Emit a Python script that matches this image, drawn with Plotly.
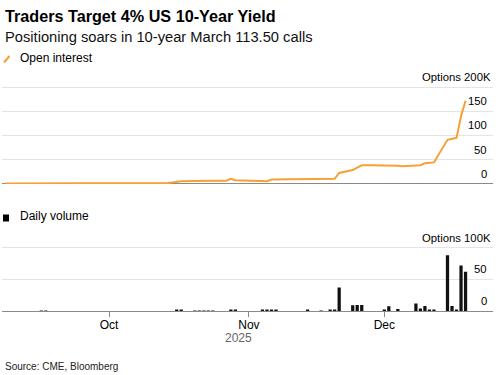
import pandas as pd
import plotly.graph_objects as go

# ---- data (values in thousands of options) ----
trade_dates = [d for d in pd.bdate_range("2025-09-08", "2025-12-19") if d != pd.Timestamp("2025-11-27")]

open_interest_k = [
    0, 0, 0, 0, 0,          # Sep 8-12
    0, 1, 1, 1, 1,          # Sep 15-19
    1, 1, 1, 1, 1,          # Sep 22-26
    1, 1, 1, 1, 1,          # Sep 29-Oct 3
    1, 1, 1, 1, 1,          # Oct 6-10
    1, 1, 2, 4, 5,          # Oct 13-17
    5.5, 6, 6, 6, 6,        # Oct 20-24
    6, 10, 7, 6.5, 6.5,     # Oct 27-31
    6, 4, 5, 8.5, 9,        # Nov 3-7
    9, 9, 9, 10, 10,        # Nov 10-14
    10, 10, 10, 10, 22,     # Nov 17-21
    28, 33, 38, 38,         # Nov 24-26, 28
    38, 38, 37.5, 37, 36,   # Dec 1-5
    37, 38, 42, 43, 44,     # Dec 8-12
    91, 93, 95, 140, 172,   # Dec 15-19
]

daily_volume_k = [
    0, 0, 0, 0, 0,
    0, 0.8, 0.8, 0, 0,
    0, 0, 0, 0, 0,
    0, 0, 0, 0, 0,
    0, 0, 0, 0, 0,
    0, 0, 0, 1.5, 1.5,
    0.4, 0.4, 0.4, 0.4, 0.4,
    0, 1.5, 1.2, 0, 0,
    0, 1, 2.3, 1.5, 2,
    0, 0, 0, 0, 2,
    0.8, 0, 1, 2, 37,
    9, 9.5, 9.5, 0,
    1, 7.4, 0, 3, 0,
    12, 4, 8, 1.5, 1.5,
    88, 8, 1.5, 72, 62,
]

month_ticks = ["2025-10-01", "2025-11-01", "2025-12-01"]
month_labels = ["Oct", "Nov", "Dec"]
oi_ticks = [0, 50, 100, 150, 200]
oi_labels = ["0", "50", "100", "150", "Options 200K"]
vol_ticks = [0, 50, 100]
vol_labels = ["0", "50", "Options 100K"]

# ---- figure ----
W, H = 503, 375
FONT = "Liberation Sans, Arial, sans-serif"
ORANGE = "#F7A035"

def py(px):
    return 1 - px / H

def px_x(px):
    return px / W

x_range = ["2025-09-07 07:00", "2025-12-25 02:00"]
xdom = [px_x(2), px_x(493)]

fig = go.Figure()
fig.add_trace(go.Scatter(x=trade_dates, y=open_interest_k, mode="lines",
                         line=dict(color=ORANGE, width=2), xaxis="x", yaxis="y",
                         hoverinfo="skip"))
fig.add_trace(go.Bar(x=trade_dates, y=daily_volume_k, marker_color="#111111",
                     marker_line_width=0, width=0.72 * 86400000,
                     xaxis="x2", yaxis="y2", hoverinfo="skip"))

grid = "#e4e4e4"
axis_grey = "#8a8a8a"

fig.update_layout(
    width=W, height=H,
    margin=dict(l=0, r=0, t=0, b=0),
    paper_bgcolor="white", plot_bgcolor="white",
    showlegend=False,
    font=dict(family=FONT, color="#000"),
    xaxis=dict(domain=xdom, range=x_range, type="date", showgrid=False,
               showticklabels=False, ticks="", zeroline=False, showline=False,
               anchor="y", fixedrange=True),
    yaxis=dict(domain=[py(184.0), py(85.87)], range=[-0.9, 203],
               tickvals=oi_ticks, showticklabels=False, gridcolor=grid,
               gridwidth=1, zeroline=True, zerolinecolor=axis_grey,
               zerolinewidth=1, anchor="x", fixedrange=True),
    xaxis2=dict(domain=xdom, range=x_range, type="date", showgrid=False,
                tickvals=month_ticks, ticktext=month_labels, ticks="outside",
                ticklen=5, tickcolor=axis_grey, tickwidth=1, showline=True,
                linecolor=axis_grey, linewidth=1, zeroline=False,
                ticklabelstandoff=-2,
                tickfont=dict(size=12, color="#000", family=FONT),
                anchor="y2", fixedrange=True),
    yaxis2=dict(domain=[py(311), py(246.43)], range=[0, 102],
                tickvals=vol_ticks, showticklabels=False, gridcolor=grid,
                gridwidth=1, zeroline=False, anchor="x2", fixedrange=True),
)

ann = []
# title & subtitle
ann.append(dict(x=px_x(3), y=py(16), xref="paper", yref="paper", xanchor="left",
                yanchor="middle", showarrow=False,
                text="<b>Traders Target 4% US 10-Year Yield</b>",
                font=dict(size=16.2, color="#000", family=FONT)))
ann.append(dict(x=px_x(3), y=py(37), xref="paper", yref="paper", xanchor="left",
                yanchor="middle", showarrow=False,
                text="Positioning soars in 10-year March 113.50 calls",
                font=dict(size=14.7, color="#111", family=FONT)))
# legends
ann.append(dict(x=px_x(18), y=py(58), xref="paper", yref="paper", xanchor="left",
                yanchor="middle", showarrow=False, text="Open interest",
                font=dict(size=12, color="#000", family=FONT)))
ann.append(dict(x=px_x(18), y=py(216), xref="paper", yref="paper", xanchor="left",
                yanchor="middle", showarrow=False, text="Daily volume",
                font=dict(size=12, color="#000", family=FONT)))
# y labels
for v, t in zip(oi_ticks, oi_labels):
    ann.append(dict(x=px_x(493 if t.startswith("Options") else 489), y=v,
                    xref="paper", yref="y", xanchor="right", yanchor="bottom",
                    yshift=2, showarrow=False, text=t,
                    font=dict(size=11.3, color="#000", family=FONT)))
for v, t in zip(vol_ticks, vol_labels):
    ann.append(dict(x=px_x(493 if t.startswith("Options") else 489), y=v,
                    xref="paper", yref="y2", xanchor="right", yanchor="bottom",
                    yshift=2, showarrow=False, text=t,
                    font=dict(size=11.3, color="#000", family=FONT)))
# year label & source
ann.append(dict(x=px_x(238), y=py(337.5), xref="paper", yref="paper", xanchor="center",
                yanchor="middle", showarrow=False, text="2025",
                font=dict(size=12, color="#666", family=FONT)))
ann.append(dict(x=px_x(3), y=py(366), xref="paper", yref="paper", xanchor="left",
                yanchor="middle", showarrow=False, text="Source: CME, Bloomberg",
                font=dict(size=10, color="#222", family=FONT)))
fig.update_layout(annotations=ann)

# legend icons
fig.add_shape(type="line", xref="paper", yref="paper",
              x0=px_x(4), y0=py(62.5), x1=px_x(9.5), y1=py(56),
              line=dict(color=ORANGE, width=2))
fig.add_shape(type="rect", xref="paper", yref="paper",
              x0=px_x(3), y0=py(221.5), x1=px_x(9), y1=py(214.5),
              line=dict(width=0), fillcolor="#000")

fig.write_html("out.html", config={"displayModeBar": False},
               post_script="document.body.style.margin='0';document.body.style.overflow='hidden';")
